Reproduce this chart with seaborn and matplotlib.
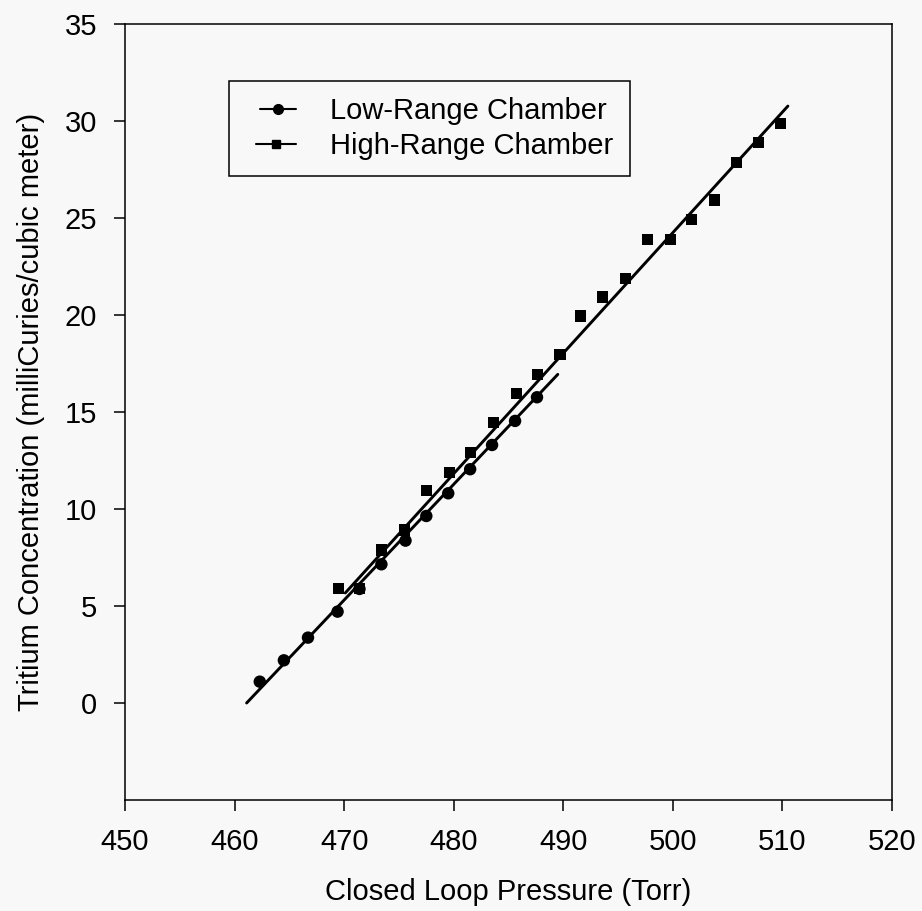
import matplotlib
matplotlib.use("Agg")
import matplotlib.pyplot as plt
from matplotlib.lines import Line2D
from matplotlib.legend_handler import HandlerLine2D
import seaborn as sns
import pandas as pd

# ---- data ----
low_x = [462.3, 464.5, 466.7, 469.4, 471.4, 473.4, 475.6, 477.5, 479.5, 481.5, 483.5, 485.6, 487.6]
low_y = [1.1, 2.2, 3.37, 4.71, 5.88, 7.15, 8.37, 9.64, 10.81, 12.05, 13.3, 14.54, 15.76]

high_x = [469.5, 471.4, 473.4, 475.5, 477.5, 479.6, 481.5, 483.6, 485.7, 487.65, 489.7,
          491.6, 493.6, 495.7, 497.7, 499.75, 501.7, 503.8, 505.8, 507.85, 509.8]
high_y = [5.91, 5.9, 7.89, 8.92, 10.94, 11.89, 12.92, 14.45, 15.96, 16.94, 17.97,
          19.95, 20.93, 21.89, 23.9, 23.9, 24.93, 25.93, 27.87, 28.88, 29.88]

# fitted regression lines (end points)
low_fit_x = [461.1, 489.5]
low_fit_y = [0.0, 16.94]
high_fit_x = [470.1, 510.5]
high_fit_y = [5.67, 30.77]

series_names = ["Low-Range Chamber", "High-Range Chamber"]
x_ticks = [450, 460, 470, 480, 490, 500, 510, 520]
y_ticks = [0, 5, 10, 15, 20, 25, 30, 35]
x_label = "Closed Loop Pressure (Torr)"
y_label = "Tritium Concentration (milliCuries/cubic meter)"

# ---- style ----
sns.set_theme(style="white")
bg = "#f8f8f8"
plt.rcParams["font.family"] = ["Liberation Sans", "DejaVu Sans"]
plt.rcParams["text.color"] = "black"
plt.rcParams["axes.labelcolor"] = "black"
plt.rcParams["xtick.color"] = "black"
plt.rcParams["ytick.color"] = "black"
plt.rcParams["axes.edgecolor"] = "black"
plt.rcParams["axes.linewidth"] = 1.1

fig = plt.figure(figsize=(9.22, 9.11), dpi=100, facecolor=bg)
ax = fig.add_axes([125 / 922, 1 - 800 / 911, (892 - 125) / 922, (800 - 24) / 911])
ax.set_facecolor(bg)

low_df = pd.DataFrame({"x": low_x, "y": low_y})
high_df = pd.DataFrame({"x": high_x, "y": high_y})
low_fit = pd.DataFrame({"x": low_fit_x, "y": low_fit_y})
high_fit = pd.DataFrame({"x": high_fit_x, "y": high_fit_y})

sns.lineplot(data=low_fit, x="x", y="y", ax=ax, color="black", lw=2.1,
             sort=False, estimator=None, zorder=2)
sns.lineplot(data=high_fit, x="x", y="y", ax=ax, color="black", lw=2.1,
             sort=False, estimator=None, zorder=2)
sns.scatterplot(data=low_df, x="x", y="y", ax=ax, marker="o", s=80,
                color="black", edgecolor="none", zorder=3)
sns.scatterplot(data=high_df, x="x", y="y", ax=ax, marker="s", s=65,
                color="black", edgecolor="none", zorder=3)

ax.set_xlim(450, 520)
ax.set_ylim(-5, 35)
ax.set_xticks(x_ticks)
ax.set_yticks(y_ticks)
ax.set_xticklabels([str(v) for v in x_ticks])
ax.set_yticklabels([str(v) for v in y_ticks])

for s in ax.spines.values():
    s.set_visible(True)
    s.set_color("black")
    s.set_linewidth(1.1)

ax.tick_params(axis="both", which="major", direction="out", length=8, width=1.1,
               color="black", labelsize=21, labelcolor="black",
               bottom=True, left=True, top=False, right=False)
ax.tick_params(axis="x", pad=12)
ax.tick_params(axis="y", pad=12)

ax.set_xlabel(x_label, fontsize=21, color="black", labelpad=16)
ax.set_ylabel(y_label, fontsize=21, color="black", labelpad=14)


class ShiftedLineHandler(HandlerLine2D):
    """Draw the legend sample line only over the right part of the handle box."""
    def __init__(self, frac=0.27, **kw):
        super().__init__(**kw)
        self.frac = frac

    def create_artists(self, legend, orig_handle, xdescent, ydescent,
                       width, height, fontsize, trans):
        arts = super().create_artists(legend, orig_handle, xdescent, ydescent,
                                      width, height, fontsize, trans)
        x0 = -xdescent
        for a in arts:
            xd = [x0 + self.frac * width + (x - x0) * (1 - self.frac)
                  for x in a.get_xdata()]
            a.set_xdata(xd)
        return arts


h_low = Line2D([0], [0], color="black", lw=1.5, marker="o", markersize=7)
h_high = Line2D([0], [0], color="black", lw=1.5, marker="s", markersize=6)
leg = ax.legend([h_low, h_high], series_names, loc="upper left",
                bbox_to_anchor=((229 - 125) / 767, (800 - 81) / 776),
                borderaxespad=0, fontsize=21, frameon=True, fancybox=False,
                shadow=False, handlelength=1.75, handletextpad=1.17,
                borderpad=0.55, labelspacing=0.25, labelcolor="black",
                handler_map={h_low: ShiftedLineHandler(frac=0.3),
                             h_high: ShiftedLineHandler(frac=0.22)})
fr = leg.get_frame()
fr.set_edgecolor("black")
fr.set_linewidth(1.1)
fr.set_facecolor(bg)
fr.set_alpha(1)

fig.savefig("out.png", dpi=100, facecolor=bg)
